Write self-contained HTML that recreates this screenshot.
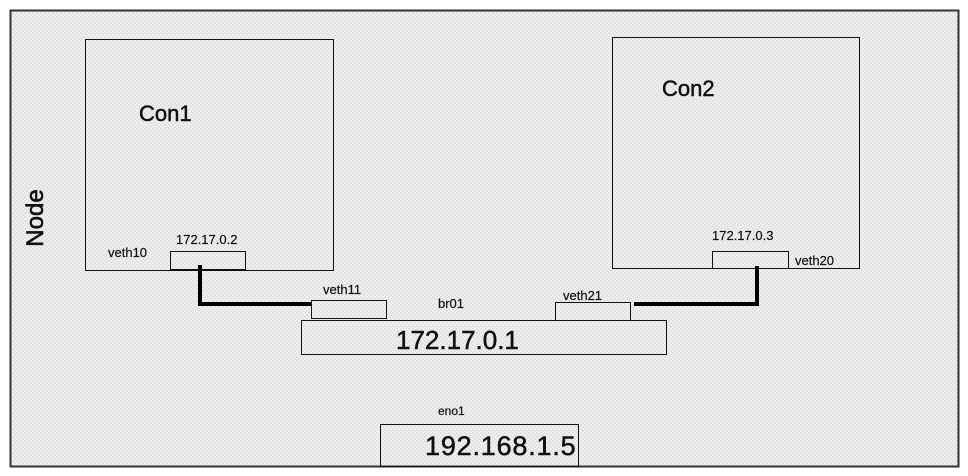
<!DOCTYPE html>
<html><head><meta charset="utf-8"><style>
html,body{margin:0;padding:0;background:#fff;}
svg{display:block;}
text{font-family:"Liberation Sans",sans-serif;fill:#111;}
</style></head><body>
<svg width="968" height="476" viewBox="0 0 968 476">
<defs>
<pattern id="hatch" width="4" height="4" patternUnits="userSpaceOnUse">
<rect width="4" height="4" fill="#efefef"/>
<rect x="0" y="0" width="2" height="2" fill="#e2e2e2"/>
<rect x="2" y="2" width="2" height="2" fill="#e2e2e2"/>
</pattern>
</defs>
<rect x="0" y="0" width="968" height="476" fill="#fff"/>
<rect x="10.5" y="10.5" width="948" height="456" fill="url(#hatch)" stroke="#333" stroke-width="2"/>
<text transform="translate(43,218) rotate(-90)" text-anchor="middle" font-size="24" stroke="#111" stroke-width="0.6">Node</text>

<rect x="85.5" y="39.5" width="248" height="231" fill="none" stroke="#111" stroke-width="1"/>
<text x="139" y="121" font-size="22" stroke="#111" stroke-width="0.5">Con1</text>
<rect x="612.5" y="37.5" width="247" height="231" fill="none" stroke="#111" stroke-width="1"/>
<text x="662" y="96" font-size="22" stroke="#111" stroke-width="0.5">Con2</text>

<rect x="170.5" y="251.5" width="75" height="18" fill="none" stroke="#111"/>
<text x="108" y="257" font-size="13" stroke="#111" stroke-width="0.2">veth10</text>
<text x="176" y="244" font-size="13" stroke="#111" stroke-width="0.2">172.17.0.2</text>

<rect x="712.5" y="251.5" width="76" height="17" fill="none" stroke="#111"/>
<text x="795" y="265" font-size="13" stroke="#111" stroke-width="0.2">veth20</text>
<text x="712" y="240" font-size="13" stroke="#111" stroke-width="0.2">172.17.0.3</text>

<polyline points="200,265 200,304 311,304" fill="none" stroke="#000" stroke-width="4"/>
<polyline points="634,304 757,304 757,266" fill="none" stroke="#000" stroke-width="4"/>

<rect x="311.5" y="300.5" width="75" height="18" fill="none" stroke="#111"/>
<text x="323" y="294" font-size="13" stroke="#111" stroke-width="0.2">veth11</text>
<rect x="555.5" y="302.5" width="75" height="18" fill="none" stroke="#111"/>
<text x="563" y="300" font-size="13" stroke="#111" stroke-width="0.2">veth21</text>
<text x="438" y="308" font-size="13" stroke="#111" stroke-width="0.2">br01</text>

<rect x="301.5" y="320.5" width="365" height="34" fill="none" stroke="#111"/>
<text x="396" y="349" font-size="26" stroke="#111" stroke-width="0.5">172.17.0.1</text>

<text x="438" y="415" font-size="12" stroke="#111" stroke-width="0.2">eno1</text>
<rect x="380.5" y="424.5" width="198" height="42" fill="none" stroke="#111"/>
<text x="425" y="455" font-size="27" letter-spacing="0.8" stroke="#111" stroke-width="0.5">192.168.1.5</text>
</svg>
</body></html>
